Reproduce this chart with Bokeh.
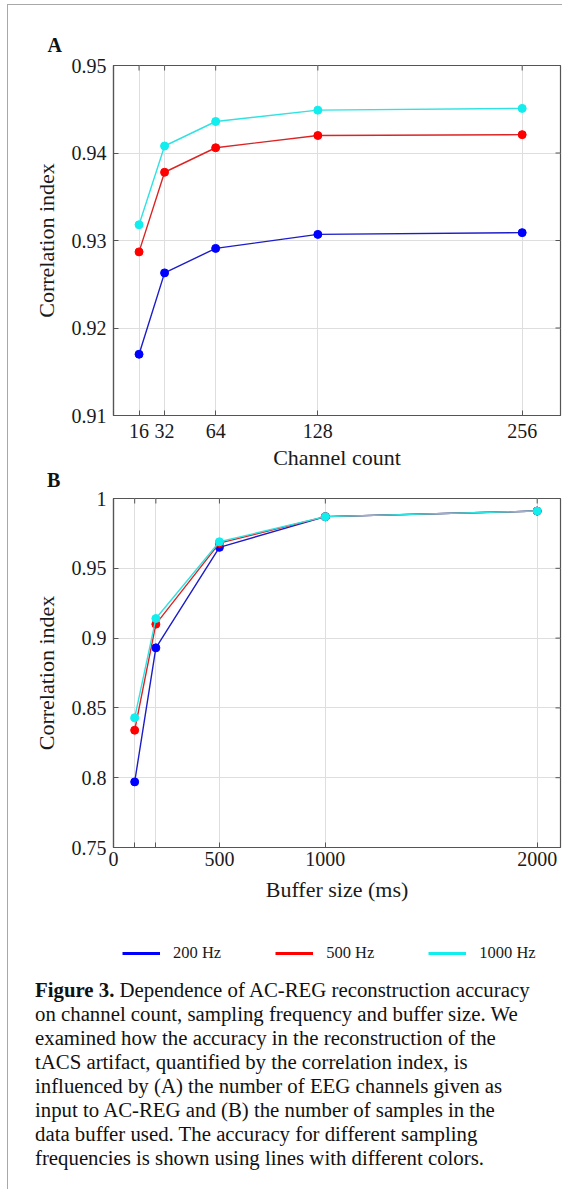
import math
from bokeh.plotting import figure
from bokeh.models import (Range1d, FixedTicker, Legend, LegendItem, ColumnDataSource, Div, Title)
from bokeh.layouts import column
from bokeh.embed import file_html
from bokeh.resources import INLINE

# ---------------- data ----------------
channels = [16, 32, 64, 128, 256]
a_200hz = [0.9170, 0.9263, 0.9291, 0.9307, 0.9309]
a_500hz = [0.9287, 0.9378, 0.9406, 0.9420, 0.9421]
a_1000hz = [0.9318, 0.9408, 0.9436, 0.9449, 0.9451]

buffer_ms = [100, 200, 500, 1000, 2000]
b_200hz = [0.797, 0.893, 0.965, 0.987, 0.991]
b_500hz = [0.834, 0.910, 0.968, 0.987, 0.991]
b_1000hz = [0.843, 0.914, 0.969, 0.987, 0.991]

a_xticks = [16, 32, 64, 128, 256]
a_xlabels = ["16", "32", "64", "128", "256"]
a_yticks = [0.91, 0.92, 0.93, 0.94, 0.95]
a_ylabels = ["0.91", "0.92", "0.93", "0.94", "0.95"]
b_xticks = [0, 100, 200, 500, 1000, 2000]
b_xlabels = ["0", "", "", "500", "1000", "2000"]
b_yticks = [0.75, 0.8, 0.85, 0.9, 0.95, 1.0]
b_ylabels = ["0.75", "0.8", "0.85", "0.9", "0.95", "1"]

freq_labels = ["200 Hz", "500 Hz", "1000 Hz"]
line_colors = ["#1c1cc8", "#dc2424", "#30e2e2"]
dot_colors = ["#0000ff", "#ff0000", "#12eded"]

caption_bold = "Figure 3."
caption_lines = [
    "Dependence of AC-REG reconstruction accuracy",
    "on channel count, sampling frequency and buffer size. We",
    "examined how the accuracy in the reconstruction of the",
    "tACS artifact, quantified by the correlation index, is",
    "influenced by (A) the number of EEG channels given as",
    "input to AC-REG and (B) the number of samples in the",
    "data buffer used. The accuracy for different sampling",
    "frequencies is shown using lines with different colors.",
]

# ---------------- style ----------------
W = 554
FONT = "Liberation Serif"
FRAME = "#555555"
GRID = "#dedede"
LEFT, RIGHT = 105, 2


def style_axis(ax, ticker, overrides, standoff):
    ax.ticker = ticker
    ax.major_label_overrides = overrides
    ax.major_tick_in = 5
    ax.major_tick_out = 0
    ax.minor_tick_in = 0
    ax.minor_tick_out = 0
    ax.axis_line_color = FRAME
    ax.axis_line_width = 1.2
    ax.major_tick_line_color = FRAME
    ax.major_tick_line_width = 1
    ax.major_label_text_font = FONT
    ax.major_label_text_font_size = "20px"
    ax.major_label_text_color = "#1a1a1a"
    ax.major_label_standoff = standoff
    ax.axis_label_text_font = FONT
    ax.axis_label_text_font_size = "22px"
    ax.axis_label_text_font_style = "normal"
    ax.axis_label_text_color = "#1a1a1a"


def make_panel(title, height, top, bottom, xr, yr, xt, xl, yt, yl, xlabel,
               x_standoff, x_label_standoff):
    p = figure(width=W, height=height, x_range=Range1d(*xr), y_range=Range1d(*yr),
               output_backend="svg", toolbar_location=None,
               min_border_top=top, min_border_bottom=bottom,
               min_border_left=LEFT, min_border_right=RIGHT)
    p.title = title
    p.background_fill_color = "white"
    p.border_fill_color = "white"
    p.outline_line_color = FRAME
    p.outline_line_width = 1.2
    xtick = FixedTicker(ticks=xt)
    ytick = FixedTicker(ticks=yt)
    style_axis(p.xaxis[0], xtick, dict(zip(xt, xl)), x_standoff)
    p.xaxis[0].axis_label = xlabel
    p.xaxis[0].axis_label_standoff = x_label_standoff
    style_axis(p.yaxis[0], ytick, dict(zip(yt, yl)), 7)
    p.yaxis[0].axis_label = "Correlation index"
    p.yaxis[0].axis_label_standoff = 10
    p.xgrid.ticker = xtick
    p.ygrid.ticker = ytick
    p.xgrid.grid_line_color = GRID
    p.ygrid.grid_line_color = GRID
    # inward tick marks on the top and right edges of the box (outer half is clipped)
    p.scatter(x=xt, y=[yr[1]] * len(xt), marker="dash", angle=math.pi / 2, size=10,
              line_color=FRAME, line_width=1)
    p.scatter(x=[xr[1]] * len(yt), y=yt, marker="dash", size=10,
              line_color=FRAME, line_width=1)
    return p


def add_series(p, xs, series):
    for ys, lc, dc in zip(series, line_colors, dot_colors):
        src = ColumnDataSource(dict(x=xs, y=ys))
        p.line("x", "y", source=src, line_color=lc, line_width=1.4)
        p.scatter("x", "y", source=src, size=8, fill_color=dc, line_color=dc)


# ---------------- panel A ----------------
title_a = Title(text="A", align="left", offset=-66, standoff=19,
                text_font=FONT, text_font_size="20px", text_font_style="bold",
                text_color="#111111")
pa = make_panel(title_a, 468, 60, 58, (0, 280), (0.91, 0.95),
                a_xticks, a_xlabels, a_yticks, a_ylabels, "Channel count", 8, 4)
add_series(pa, channels, [a_200hz, a_500hz, a_1000hz])

# ---------------- panel label B ----------------
label_b = Div(text="<b>B</b>", width=60, height=15, margin=(0, 0, 0, 39),
              styles={"font-family": "Liberation Serif", "font-size": "20px",
                      "line-height": "15px", "color": "#111111",
                      "overflow": "visible"})

# ---------------- panel B ----------------
pb = make_panel(None, 432, 10, 73, (0, 2110), (0.75, 1.0),
                b_xticks, b_xlabels, b_yticks, b_ylabels, "Buffer size (ms)", 4, 8)
add_series(pb, buffer_ms, [b_200hz, b_500hz, b_1000hz])

# ---------------- legend ----------------
HL = 58
pc = figure(width=W, height=HL, x_range=Range1d(0, 1), y_range=Range1d(0, 1),
            x_axis_type=None, y_axis_type=None, output_backend="svg",
            toolbar_location=None, min_border_left=LEFT, min_border_right=RIGHT,
            min_border_top=0, min_border_bottom=0)
pc.outline_line_color = None
pc.background_fill_color = "white"
pc.border_fill_color = "white"
items = []
for lab, lc, ys in zip(freq_labels, dot_colors, [b_200hz, b_500hz, b_1000hz]):
    # series data lies outside this strip's ranges, so only the legend swatch shows
    r = pc.line(x=buffer_ms, y=ys, line_color=lc, line_width=3)
    items.append(LegendItem(label=lab, renderers=[r]))
legend = Legend(items=items, orientation="horizontal", location=(9, 15),
                glyph_width=38, glyph_height=20, label_standoff=13, spacing=54,
                padding=0, margin=0, border_line_color=None, background_fill_alpha=0,
                label_text_font=FONT, label_text_font_size="16.5px",
                label_text_color="#1a1a1a")
pc.add_layout(legend)

# ---------------- caption ----------------
cap_html = ("<div style='white-space:nowrap'><b>" + caption_bold + "</b> "
            + "<br>".join(caption_lines) + "</div>")
caption = Div(text=cap_html, width=525, height=211, margin=(0, 0, 0, 27),
              styles={"font-family": "Liberation Serif", "font-size": "20.8px",
                      "line-height": "24px", "color": "#111111"})

layout = column(pa, label_b, pb, pc, caption, spacing=0, margin=(4, 0, 0, 7),
                styles={"border-left": "1px solid #a8a8a8",
                        "border-top": "1px solid #a8a8a8"})

open("out.html", "w").write(file_html(layout, INLINE))
